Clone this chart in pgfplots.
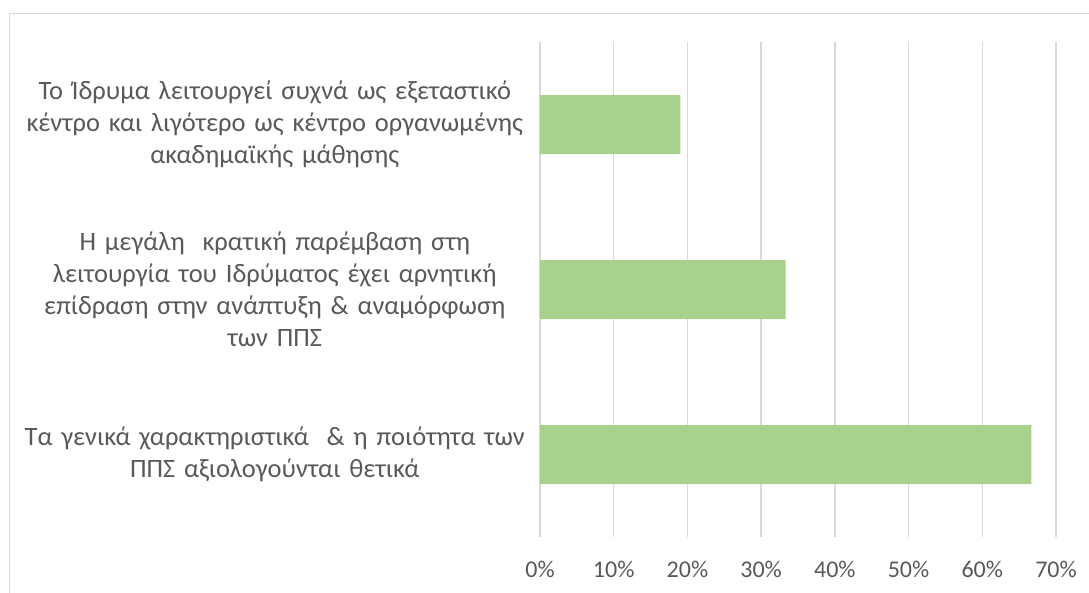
\documentclass[border=0pt]{standalone}
\usepackage{fontspec}
\setmainfont{Carlito}
\usepackage{pgfplots}
\pgfplotsset{compat=1.18}
\definecolor{barG}{HTML}{A9D18E}
\definecolor{gridG}{HTML}{D9D9D9}
\definecolor{txtG}{HTML}{595959}
\begin{document}
\begin{tikzpicture}
\path[use as bounding box] (-540pt,-55pt) rectangle (549pt,537pt);
\draw[gridG, line width=1pt] (-530pt,-70pt) -- (-530pt,523pt) -- (570pt,523pt);
\begin{axis}[
  at={(0pt,0pt)}, anchor=south west,
  scale only axis, width=516pt, height=495pt,
  xbar, bar width=59pt,
  xmin=0, xmax=70, ymin=-0.5, ymax=2.5, y dir=reverse,
  axis line style={draw=none},
  xtick={0,10,...,70}, ytick={0,1,2},
  xmajorgrids, grid style={gridG, line width=1.3pt},
  major tick length=0pt,
  /pgf/number format/assume math mode=true,
  xticklabel={\pgfmathprintnumber{\tick}\%},
  tick label style={font=\fontsize{24}{32}\selectfont, text=txtG},
  xticklabel style={anchor=base, yshift=-40pt},
  yticklabel style={font=\fontsize{26.5}{32}\selectfont, text width=540pt, align=center, inner sep=0pt, anchor=east, xshift=5pt},
  yticklabels={
    {Το Ίδρυμα λειτουργεί συχνά ως εξεταστικό\\κέντρο και λιγότερο ως κέντρο οργανωμένης\\ακαδημαϊκής μάθησης},
    {Η μεγάλη\ \ κρατική παρέμβαση στη\\λειτουργία του Ιδρύματος έχει αρνητική\\επίδραση στην ανάπτυξη \& αναμόρφωση\\των ΠΠΣ},
    {Τα γενικά χαρακτηριστικά\ \ \& η ποιότητα των\\ΠΠΣ αξιολογούνται θετικά}
  },
]
\addplot[fill=barG, draw=none] coordinates {(19.05,0) (33.33,1) (66.67,2)};
\end{axis}
\end{tikzpicture}
\end{document}
